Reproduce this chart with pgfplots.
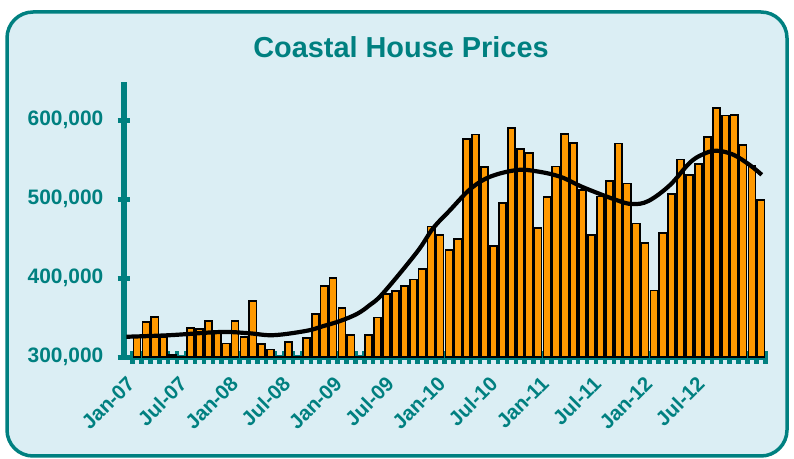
\documentclass[border=0pt]{standalone}
\usepackage{pgfplots}
\pgfplotsset{compat=1.18}
\usepackage{pgfplotstable}
\usepackage{fontspec}
\setmainfont{Liberation Sans}
\definecolor{tealc}{RGB}{0,128,128}
\definecolor{bgblue}{RGB}{219,238,244}
\definecolor{barorange}{RGB}{255,153,0}

\pgfplotstableread{
idx price
0 327000
1 345000
2 351000
3 325000
4 303000
5 297000
6 337000
7 335500
8 346000
9 333500
10 317500
11 346000
12 326000
13 371500
14 316500
15 310000
16 297000
17 319500
18 297000
19 324000
20 355000
21 390000
22 400000
23 362000
24 328000
25 297000
26 328000
27 350500
28 380000
29 384000
30 390000
31 398500
32 412000
33 465500
34 455000
35 436000
36 449500
37 576000
38 582000
39 540500
40 441000
41 495000
42 590000
43 564000
44 559000
45 463500
46 503000
47 541500
48 582500
49 571000
50 512000
51 454500
52 503500
53 523500
54 570500
55 520000
56 469500
57 444500
58 384500
59 457000
60 506500
61 550500
62 530500
63 544500
64 578500
65 615500
66 606000
67 607000
68 569000
69 542000
70 499000
}\pricedata

\begin{document}
\begin{tikzpicture}
\path[use as bounding box] (0bp,0bp) rectangle (794bp,459bp);
\draw[tealc, line width=3.5bp, fill=bgblue, rounded corners=26bp] (7bp,3bp) rectangle (787bp,447bp);
\node[font=\fontsize{29}{34}\selectfont\bfseries, text=tealc, anchor=base] at (401bp,401bp) {Coastal House Prices};
\begin{axis}[
  at={(124bp,101.7bp)}, anchor=south west,
  scale only axis, width=644bp, height=275.3bp,
  xmin=-1.46, xmax=70.8, ymin=300000, ymax=648500,
  axis x line=bottom, axis y line=left,
  axis line style={tealc, line width=5.5bp, -},
  scaled y ticks=false,
  ytick={300000,400000,500000,600000},
  yticklabels={{300,000},{400,000},{500,000},{600,000}},
  xtick={-0.8,5.01,10.82,16.63,22.44,28.25,34.06,39.87,45.68,51.49,57.3,63.11},
  xticklabels={Jan-07,Jul-07,Jan-08,Jul-08,Jan-09,Jul-09,Jan-10,Jul-10,Jan-11,Jul-11,Jan-12,Jul-12},
  minor xtick={-1.5,-0.5,...,70.5},
  tick align=center, major tick length=13bp, minor tick length=13bp,
  tick style={tealc, line width=4.5bp},
  every major x tick/.style={draw opacity=0},
  /pgf/number format/assume math mode=true,
  yticklabel style={font=\fontsize{21}{25}\selectfont\bfseries, text=tealc, anchor=east, inner sep=0pt, xshift=-14bp},
  xticklabel style={font=\fontsize{20.5}{24}\selectfont\bfseries, text=tealc, yshift=-11bp, xshift=-4bp, rotate=45, anchor=north east, inner sep=0pt},
  clip=true,
]
\addplot[ybar, bar width=0.8, fill=barorange, draw=black, line width=1.7bp] table[x=idx, y=price] {\pricedata};
\addplot[black, line width=4.2bp, smooth, tension=0.6] coordinates {
(-1.2,326000) (3.7,328000) (9.3,332000) (12.5,330500) (15.3,328000) (19,333500) (20.9,339500) (22.8,346000) (24.7,355000) (26.1,366000) (27.6,381000) (31.4,433000) (33.2,463000) (35.1,486000) (37.4,513000) (39.6,528500) (42.6,537000) (44.8,535500) (47.5,528500) (50.1,515000) (53.8,499000) (55.6,494000) (57.4,498000) (59.8,518000) (62,546000) (63.5,557000) (65,561500) (66.9,556500) (68.8,543000) (70.1,531000)
};
\end{axis}
\end{tikzpicture}
\end{document}
